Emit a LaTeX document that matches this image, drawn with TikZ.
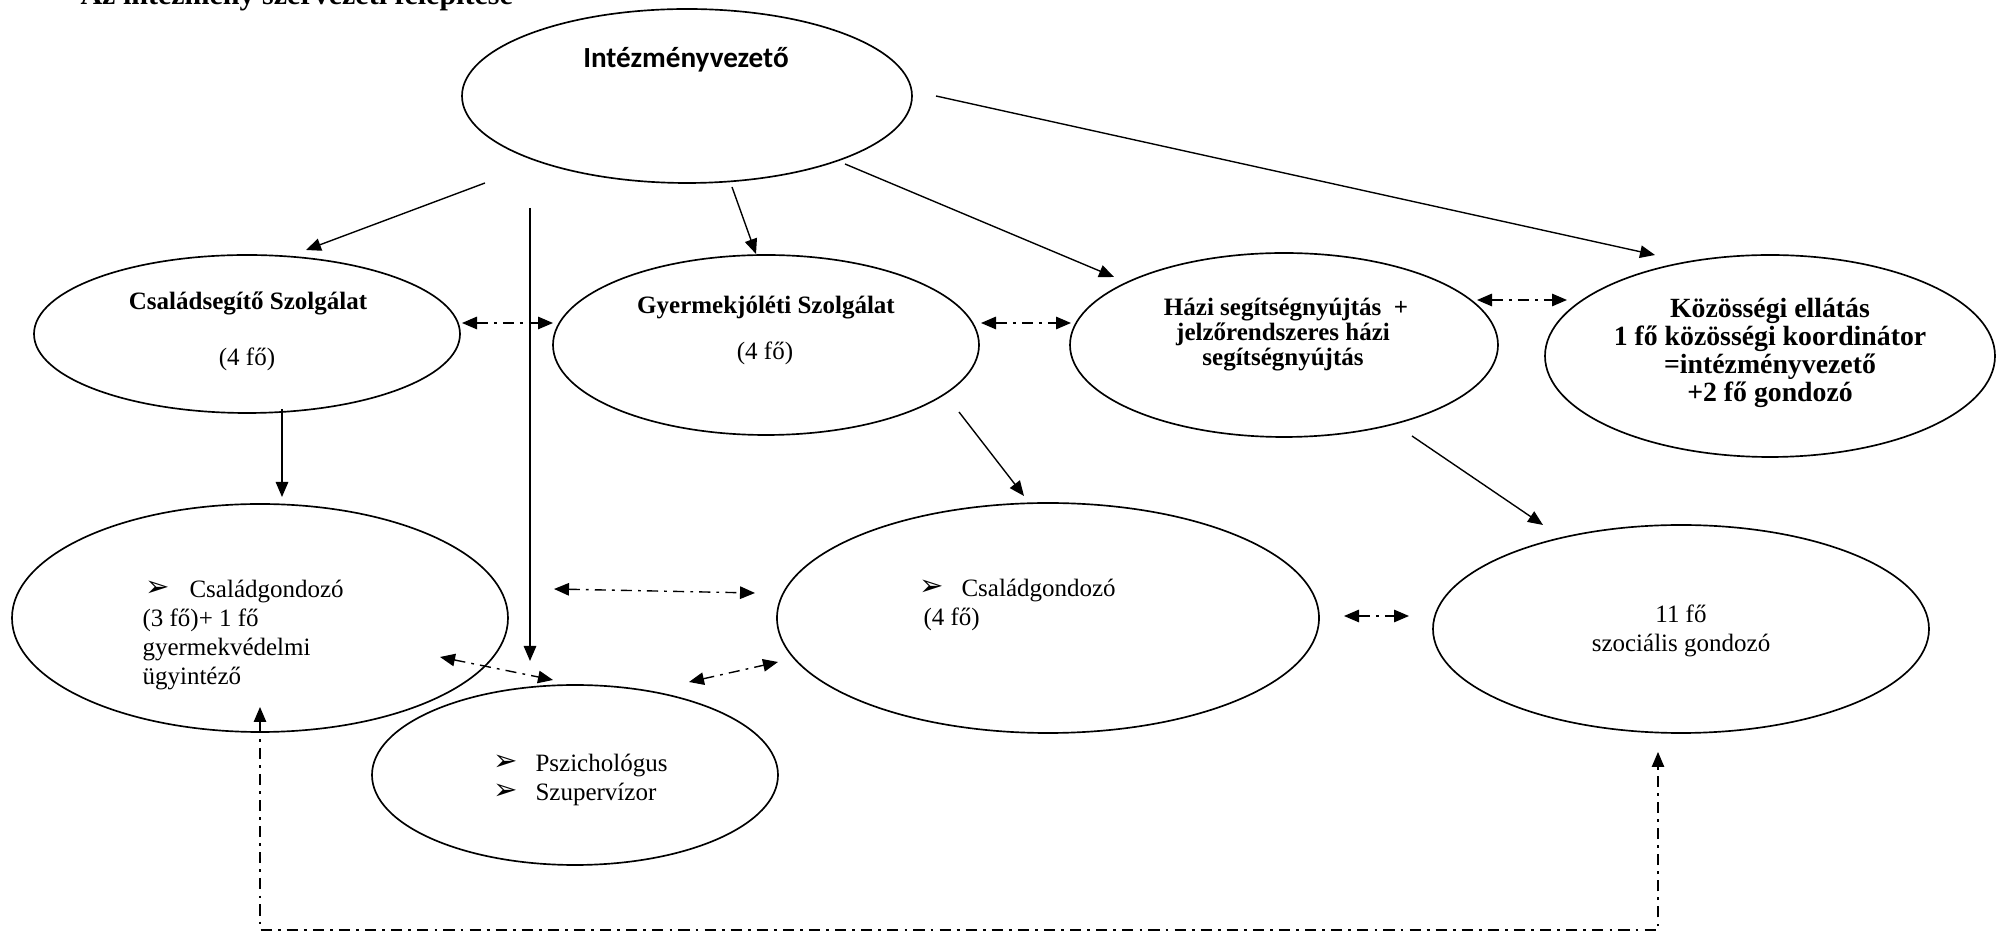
\documentclass[tikz,border=0pt]{standalone}
\usepackage{fontspec}
\setmainfont{Liberation Serif}
\newfontfamily\calfont{Carlito}
\newfontfamily\dingfont{DejaVu Sans}
\usetikzlibrary{shapes.geometric,arrows.meta}
\newcommand{\blt}{{\dingfont\fontsize{10.5}{10.5}\selectfont ➢}}
\begin{document}
\begin{tikzpicture}[
  x=0.36pt, y=-0.36pt,
  oval/.style 2 args={draw, ellipse, inner sep=0pt, line width=0.6pt,
    minimum width=#1*0.72pt, minimum height=#2*0.72pt},
  tx/.style={inner sep=0pt, font=\fontsize{9}{10}\selectfont},
  bt/.style={inner sep=0pt, font=\fontsize{9}{10}\selectfont\bfseries},
  kt/.style={inner sep=0pt, font=\fontsize{10}{10}\selectfont\bfseries},
  arr/.style={line width=0.5pt, -{Triangle[length=5.4pt,width=4.5pt]}},
  darr/.style={line width=0.5pt, dash pattern=on 4pt off 2.2pt on 1pt off 2.2pt,
    {Triangle[length=5.4pt,width=4.5pt]}-{Triangle[length=5.4pt,width=4.5pt]}},
]
\useasboundingbox (0,0) rectangle (2002,934);
\clip (0,0) rectangle (2002,934);

% title (cut off at top)
\node[anchor=base west, inner sep=0pt, font=\fontsize{10.8}{12}\selectfont\bfseries] (title) at (80,5) {Az intézmény szervezeti felépítése};

% ellipses
\node[oval={225}{87}]  (int)  at (687,96) {};
\node[oval={213}{79}]  (cs)   at (247,334) {};
\node[oval={213}{90}]  (gy)   at (766,345) {};
\node[oval={214}{92}]  (hazi) at (1284,345) {};
\node[oval={225}{101}] (koz)  at (1770,356) {};
\node[oval={248}{114}] (cgL)  at (260,618) {};
\node[oval={271}{115}] (cgM)  at (1048,618) {};
\node[oval={248}{104}] (szoc) at (1681,629) {};
\node[oval={203}{90}]  (psz)  at (575,775) {};

% texts
\node[anchor=base, inner sep=0pt, font=\calfont\fontsize{10.5}{12}\selectfont\bfseries] (intT) at (686,68) {Intézményvezető};

\node[bt, anchor=base] (csT1) at (248,310) {Családsegítő Szolgálat};
\node[tx, anchor=base] (csT2) at (247,366) {(4 fő)};

\node[bt, anchor=base] (gyT1) at (766,314) {Gyermekjóléti Szolgálat};
\node[tx, anchor=base] (gyT2) at (765,360) {(4 fő)};

\node[bt, anchor=base] (haT1) at (1286,316) {Házi segítségnyújtás~~+};
\node[bt, anchor=base] (haT2) at (1283,341) {jelzőrendszeres házi};
\node[bt, anchor=base] (haT3) at (1283,366) {segítségnyújtás};

\node[kt, anchor=base] (koT1) at (1770,318) {Közösségi ellátás};
\node[kt, anchor=base] (koT2) at (1770,346) {1 fő közösségi koordinátor};
\node[kt, anchor=base] (koT3) at (1770,374) {=intézményvezető};
\node[kt, anchor=base] (koT4) at (1770,402) {+2 fő gondozó};

\node[tx, anchor=base west] (clB)  at (145,597) {\blt};
\node[tx, anchor=base west] (clT1) at (189,598) {Családgondozó};
\node[tx, anchor=base west] (clT2) at (142,627) {(3 fő)+ 1 fő};
\node[tx, anchor=base west] (clT3) at (142,656) {gyermekvédelmi};
\node[tx, anchor=base west] (clT4) at (142,685) {ügyintéző};

\node[tx, anchor=base west] (cmB)  at (919,596) {\blt};
\node[tx, anchor=base west] (cmT1) at (961,597) {Családgondozó};
\node[tx, anchor=base west] (cmT2) at (923,626) {(4 fő)};

\node[tx, anchor=base] (szT1) at (1681,623) {11 fő};
\node[tx, anchor=base] (szT2) at (1681,652) {szociális gondozó};

\node[tx, anchor=base west] (psB1) at (493,771) {\blt};
\node[tx, anchor=base west] (psT1) at (535,772) {Pszichológus};
\node[tx, anchor=base west] (psB2) at (493,800) {\blt};
\node[tx, anchor=base west] (psT2) at (535,801) {Szupervízor};

% connector end points
\coordinate (a1) at (485,183);  \coordinate (a2) at (306,250);
\coordinate (b1) at (530,208);  \coordinate (b2) at (530,661);
\coordinate (c1) at (732,187);  \coordinate (c2) at (756,254);
\coordinate (d1) at (845,164);  \coordinate (d2) at (1114,277);
\coordinate (e1) at (936,96);   \coordinate (e2) at (1655,255);
\coordinate (f1) at (282,409);  \coordinate (f2) at (282,497);
\coordinate (g1) at (959,412);  \coordinate (g2) at (1024,496);
\coordinate (h1) at (1412,436); \coordinate (h2) at (1543,525);

\coordinate (i1) at (462,323);  \coordinate (i2) at (553,323);
\coordinate (j1) at (981,323);  \coordinate (j2) at (1071,323);
\coordinate (k1) at (1477,300); \coordinate (k2) at (1567,300);
\coordinate (l1) at (554,589);  \coordinate (l2) at (755,593);
\coordinate (m1) at (440,657);  \coordinate (m2) at (553,680);
\coordinate (n1) at (689,682);  \coordinate (n2) at (778,662);
\coordinate (o1) at (1344,616); \coordinate (o2) at (1409,616);
\coordinate (p1) at (260,707);  \coordinate (p2) at (260,930);
\coordinate (p3) at (1658,930); \coordinate (p4) at (1658,752);

% solid arrows
\draw[arr] (a1) -- (a2);
\draw[arr] (b1) -- (b2);
\draw[arr] (c1) -- (c2);
\draw[arr] (d1) -- (d2);
\draw[arr] (e1) -- (e2);
\draw[arr] (f1) -- (f2);
\draw[arr] (g1) -- (g2);
\draw[arr] (h1) -- (h2);

% dash-dot double arrows
\draw[darr] (i1) -- (i2);
\draw[darr] (j1) -- (j2);
\draw[darr] (k1) -- (k2);
\draw[darr] (l1) -- (l2);
\draw[darr] (m1) -- (m2);
\draw[darr] (n1) -- (n2);
\draw[darr] (o1) -- (o2);
\draw[darr, line width=0.4pt] (p1) -- (p2) -- (p3) -- (p4);
\end{tikzpicture}
\end{document}
